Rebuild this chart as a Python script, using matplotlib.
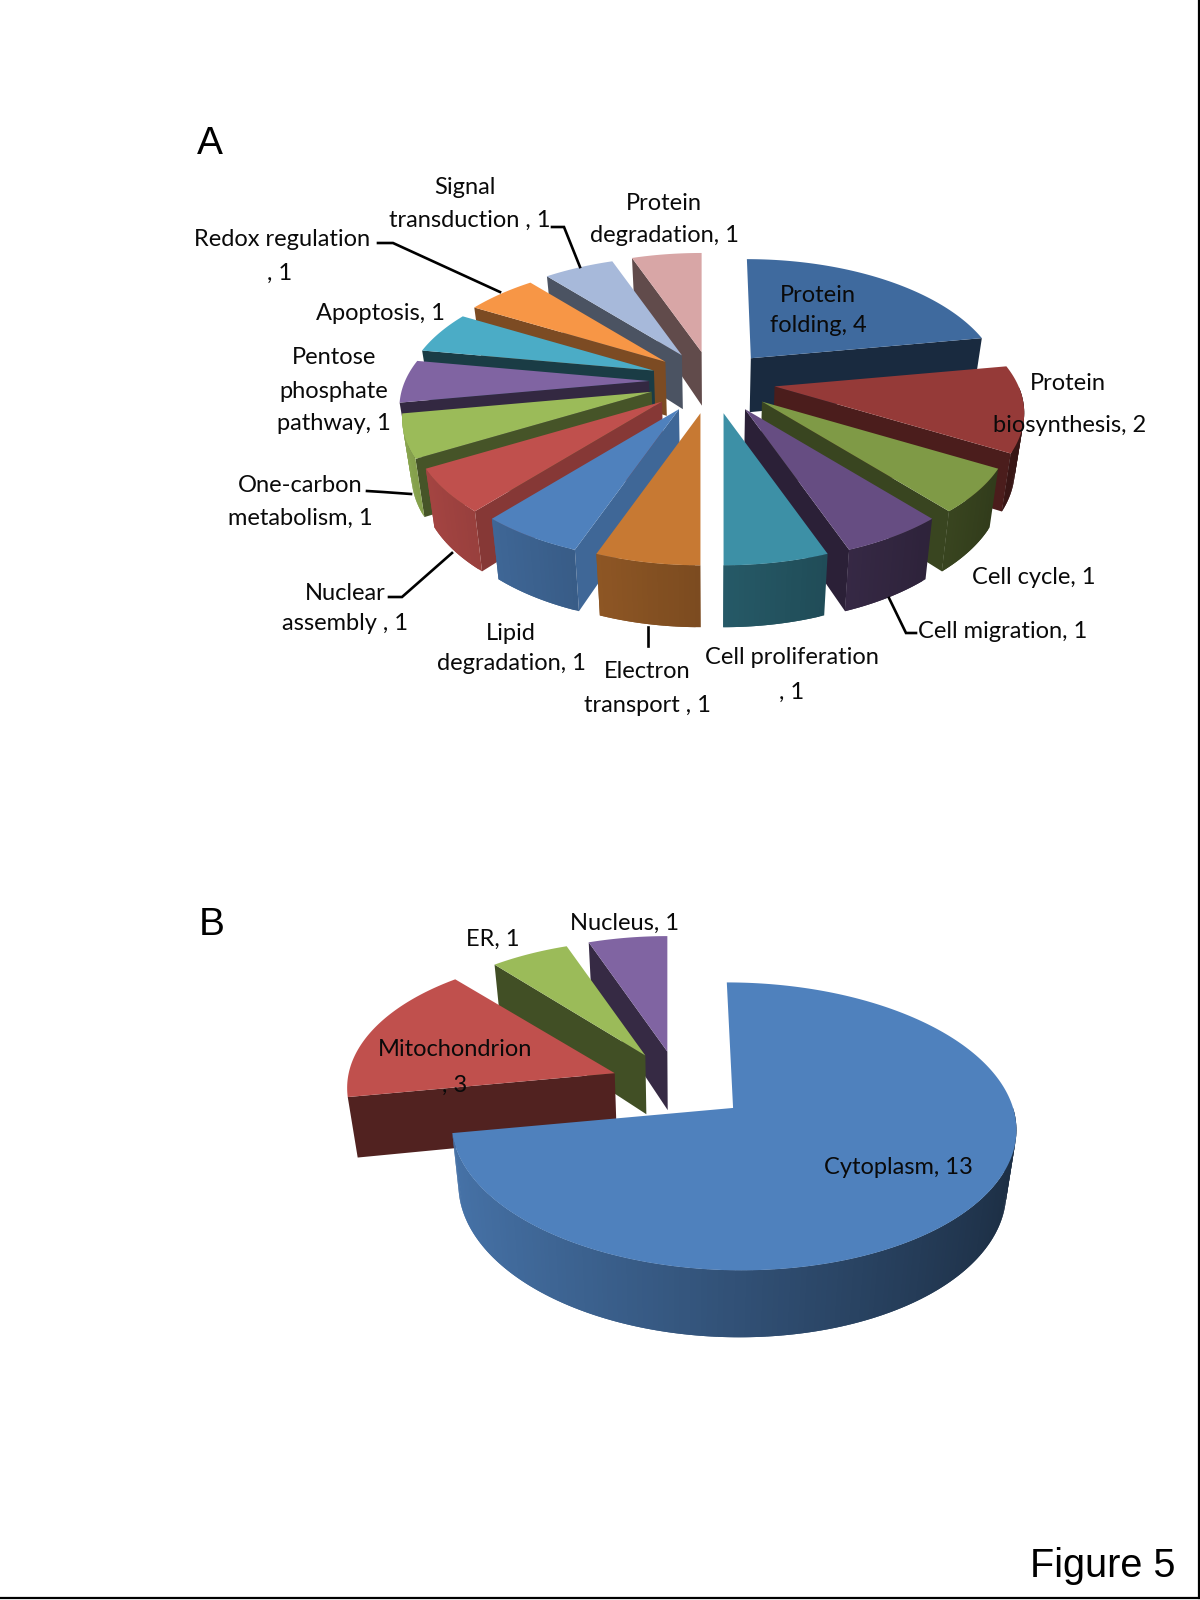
import numpy as np
import matplotlib
matplotlib.use('Agg')
import matplotlib.pyplot as plt
from matplotlib.colors import to_rgb
from matplotlib.patches import Polygon

# chart A
cats_a = ['Protein folding', 'Protein biosynthesis', 'Cell cycle', 'Cell migration',
          'Cell proliferation', 'Electron transport', 'Lipid degradation', 'Nuclear assembly',
          'One-carbon metabolism', 'Pentose phosphate pathway', 'Apoptosis', 'Redox regulation',
          'Signal transduction', 'Protein degradation']
vals_a = [4, 2, 1, 1, 1, 1, 1, 1, 1, 1, 1, 1, 1, 1]
cols_a = ['#3F6A9E', '#953A38', '#7F9A46', '#664D82', '#3D90A6', '#C77933', '#4F81BD',
          '#C0504D', '#9BBB59', '#8064A2', '#4BACC6', '#F79646', '#A7B9DA', '#D8A6A6']
wall_a = [0.4, 0.5, 0.45, 0.42, 0.5, 0.5, 0.8, 0.7, 0.45, 0.4, 0.35, 0.5, 0.45, 0.45]
skew_a = [0.04, 0, 0, 0, 0, 0, 0, 0, 0, 0, 0, 0, 0, 0]

# chart B
cats_b = ['Cytoplasm', 'Mitochondrion', 'ER', 'Nucleus']
vals_b = [13, 3, 1, 1]
cols_b = ['#4F81BD', '#C0504D', '#9BBB59', '#8064A2']
wall_b = [0.5, 0.42, 0.42, 0.42]
scale_b = [1.0, 0.95, 0.92, 0.92]
skew_b = [0.05, 0.04, 0, 0]

# one text per printed line: text, x, y
labels_a = [
    ('Protein', 664, 200), ('degradation, 1', 664, 232),
    ('Signal', 465, 185), ('transduction , 1', 470, 217),
    ('Redox regulation', 282, 237), (', 1', 280, 270),
    ('Apoptosis, 1', 380, 310),
    ('Pentose', 334, 354), ('phosphate', 334, 388), ('pathway, 1', 334, 421),
    ('One-carbon', 300, 483), ('metabolism, 1', 300, 515),
    ('Nuclear', 345, 590), ('assembly , 1', 345, 620),
    ('Lipid', 511, 630), ('degradation, 1', 511, 661),
    ('Electron', 647, 668), ('transport , 1', 647, 702),
    ('Cell proliferation', 792, 655), (', 1', 792, 689),
    ('Cell migration, 1', 1003, 628),
    ('Cell cycle, 1', 1034, 574),
    ('Protein', 1068, 380), ('biosynthesis, 2', 1070, 422),
    ('Protein', 818, 292), ('folding, 4', 818, 323),
]
labels_b = [
    ('Mitochondrion', 455, 1047), (', 3', 455, 1082),
    ('Cytoplasm, 13', 898, 1165),
    ('ER, 1', 493, 936),
    ('Nucleus, 1', 625, 920),
]
leaders = [
    ([552, 564, 580], [227, 227, 267]),
    ([378, 393, 500], [243, 243, 292]),
    ([367, 383, 411], [491, 492, 494]),
    ([389, 402, 452], [597, 597, 553]),
    ([648, 648], [627, 646]),
    ([889, 906, 916], [598, 633, 633]),
]


def project(x, y, a, b, k):
    s = 1 / (1 + k * y)
    return a * x * s, -b * y * s


def shade(col, f):
    return tuple(c * f for c in to_rgb(col))


def draw_pie(ax, values, colors, walls, cx, cy, a, b, k, expl, depth, scales=None, skews=None):
    values = np.array(values, dtype=float)
    edges = np.concatenate([[0], np.cumsum(values)]) / values.sum() * 2 * np.pi
    mids = (edges[:-1] + edges[1:]) / 2
    # far slices first
    order = np.argsort(-np.cos(mids))

    def lower(px, py, y_world):
        return px - (px - cx) * 0.03, py + depth * (1 - 0.1 * y_world)

    for i in order:
        t0, t1 = edges[i], edges[i + 1]
        g = 1.0 if scales is None else scales[i]
        sk = 0.0 if skews is None else skews[i]
        ex, ey = expl * np.sin(mids[i]), expl * np.cos(mids[i])
        dx, dy = project(ex, ey, a, b, k)
        ax_x, ax_y = cx + dx, cy + dy

        n = max(2, int(np.degrees(t1 - t0)) + 1)
        th = np.linspace(t0, t1, n)
        rx, ry = project(np.sin(th), np.cos(th), a, b, k)
        rx = ax_x + g * (rx + sk * ry)
        ry = ax_y + g * ry
        yw = ey + g * np.cos(th)

        # straight side walls
        for j, vis in ((0, np.sin(t0) < -1e-6), (-1, np.sin(t1) > 1e-6)):
            if vis:
                p1 = lower(ax_x, ax_y, ey)
                p2 = lower(rx[j], ry[j], yw[j])
                ax.add_patch(Polygon([(ax_x, ax_y), (rx[j], ry[j]), p2, p1],
                                     fc=shade(colors[i], walls[i]), ec='none'))
        # curved rim, shaded left to right; quads overlap so no seams show
        for j in range(n - 1):
            tm = (th[j] + th[j + 1]) / 2
            if np.cos(tm) >= 0 or (tm > np.pi and np.cos(tm) > -0.18):
                continue
            f = 0.62 - 0.27 * np.sin(tm)
            j2 = min(j + 2, n - 1)
            p1 = lower(rx[j], ry[j], yw[j])
            p2 = lower(rx[j + 1], ry[j + 1], yw[j + 1])
            p3 = lower(rx[j2], ry[j2], yw[j2])
            ax.add_patch(Polygon([(rx[j], ry[j]), (rx[j + 1], ry[j + 1]), (rx[j2], ry[j2]), p3, p2, p1],
                                 fc=shade(colors[i], f), ec='none'))
        # top face
        pts = [(ax_x, ax_y)] + list(zip(rx, ry))
        ax.add_patch(Polygon(pts, fc=colors[i], ec='none'))


fig = plt.figure(figsize=(12, 16), dpi=100)
ax = fig.add_axes([0, 0, 1, 1])
ax.set_xlim(0, 1200)
ax.set_ylim(1600, 0)
ax.axis('off')

draw_pie(ax, vals_a, cols_a, wall_a, 712, 381, 244, 120, 0.211, 0.258, 55, skews=skew_a)
draw_pie(ax, vals_b, cols_b, wall_b, 679, 1085, 280, 141.6, 0.128, 0.247, 60, scale_b, skew_b)

for xs, ys in leaders:
    ax.plot(xs, ys, color='black', lw=1.9, solid_joinstyle='miter')

for txt, x, y in labels_a + labels_b:
    ax.text(x, y + 3, txt, fontsize=17, family='Lato', color='#0a0a0a', ha='center', va='center')

ax.text(210, 144, 'A', fontsize=28, family='Liberation Sans', ha='center', va='center')
ax.text(212, 925, 'B', fontsize=28, family='Liberation Sans', ha='center', va='center')
ax.text(1103, 1566, 'Figure 5', fontsize=28.5, family='Liberation Sans', ha='center', va='center')

# page border on the right and bottom
ax.plot([1199, 1199], [0, 1598], color='black', lw=1.6)
ax.plot([0, 1199], [1598, 1598], color='black', lw=1.6)

fig.savefig('out.png', dpi=100)
